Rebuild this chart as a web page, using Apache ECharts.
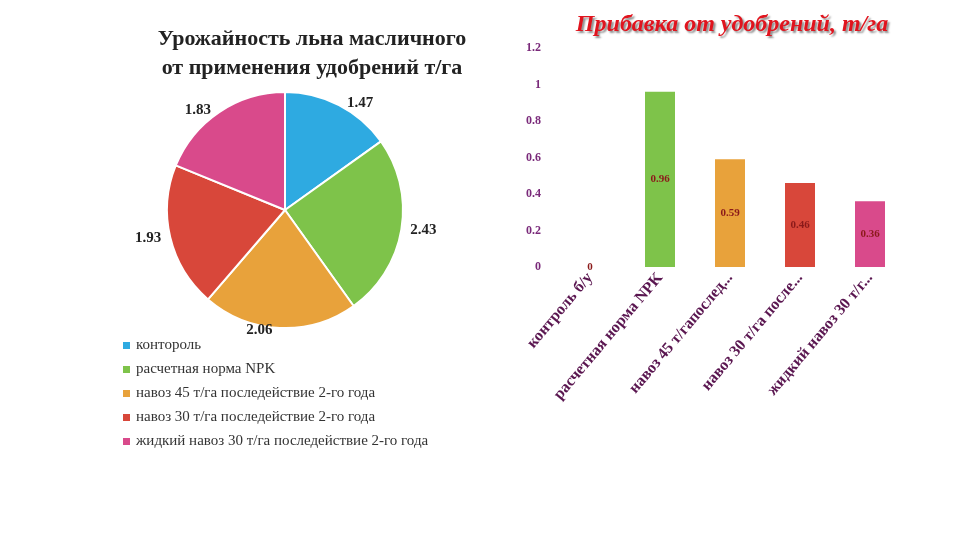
<!DOCTYPE html>
<html><head><meta charset="utf-8">
<script src="https://cdn.jsdelivr.net/npm/echarts@6/dist/echarts.min.js"></script>
<style>html,body{margin:0;padding:0;background:#fff}#c{width:960px;height:540px}</style>
</head><body><div id="c"></div>
<script>
const pieNames = ['контороль','расчетная норма NPK','навоз 45 т/га последействие 2-го года','навоз 30 т/га последействие 2-го года','жидкий навоз 30 т/га последействие 2-го года'];
const pieValues = [1.47, 2.43, 2.06, 1.93, 1.83];
const barCats = ['контроль б/у','расчетная норма NPK','навоз 45 т/гапоследействие 2-го года','навоз 30 т/га последействие 2-го года','жидкий навоз 30 т/га последействие ...'];
const barValues = [0, 0.96, 0.59, 0.46, 0.36];
const colors = ['#2eaae1','#7ec34a','#e8a23b','#d8473a','#d94a8b'];
const serif = '"Liberation Serif","DejaVu Serif",serif';
const chart = echarts.init(document.getElementById('c'));
chart.setOption({
  animation:false,
  color:colors,
  title:[
    {text:'Урожайность льна масличного\nот применения удобрений т/га',left:307,top:20,textAlign:'center',
     textStyle:{fontFamily:serif,fontSize:22,fontWeight:'bold',color:'#222',lineHeight:29}},
    {text:'Прибавка от удобрений, т/га',left:727,top:8,textAlign:'center',
     textStyle:{fontFamily:serif,fontSize:24,fontWeight:'bold',fontStyle:'italic',color:'#e0141e',
     textShadowColor:'rgba(0,0,0,0.45)',textShadowOffsetX:2,textShadowOffsetY:2,textShadowBlur:2}}
  ],
  legend:{orient:'vertical',left:116,top:333,itemGap:9,itemWidth:9,itemHeight:9,icon:'rect',
    data:pieNames,textStyle:{fontFamily:serif,fontSize:15,color:'#333'}},
  grid:{left:555,right:55,top:48,bottom:273},
  xAxis:{type:'category',data:barCats,axisLine:{show:false},axisTick:{show:false},
    axisLabel:{rotate:50,interval:0,fontFamily:serif,fontSize:16,fontWeight:'bold',color:'#5a1650',
      width:250,overflow:'truncate'}},
  yAxis:{type:'value',min:0,max:1.2,interval:0.2,splitLine:{show:false},
    axisLabel:{fontFamily:serif,fontSize:12,fontWeight:'bold',color:'#7a2a7a',margin:14}},
  series:[
    {type:'pie',center:[285,210],radius:[0,118],startAngle:90,
     data:pieNames.map((n,i)=>({name:n,value:pieValues[i],itemStyle:{color:colors[i]}})),
     itemStyle:{borderColor:'#fff',borderWidth:2},
     label:{formatter:p=>p.value.toFixed(2),fontFamily:serif,fontSize:15,fontWeight:'bold',color:'#222'},
     labelLine:{show:false,length:2,length2:2}},
    {type:'bar',barWidth:30,
     data:barValues.map((v,i)=>({value:v,itemStyle:{color:colors[i]}})),
     label:{show:true,position:'inside',fontFamily:serif,fontSize:11,fontWeight:'bold',color:'#8b1a1a',
       formatter:p=>String(p.value)}}
  ]
});
</script></body></html>
